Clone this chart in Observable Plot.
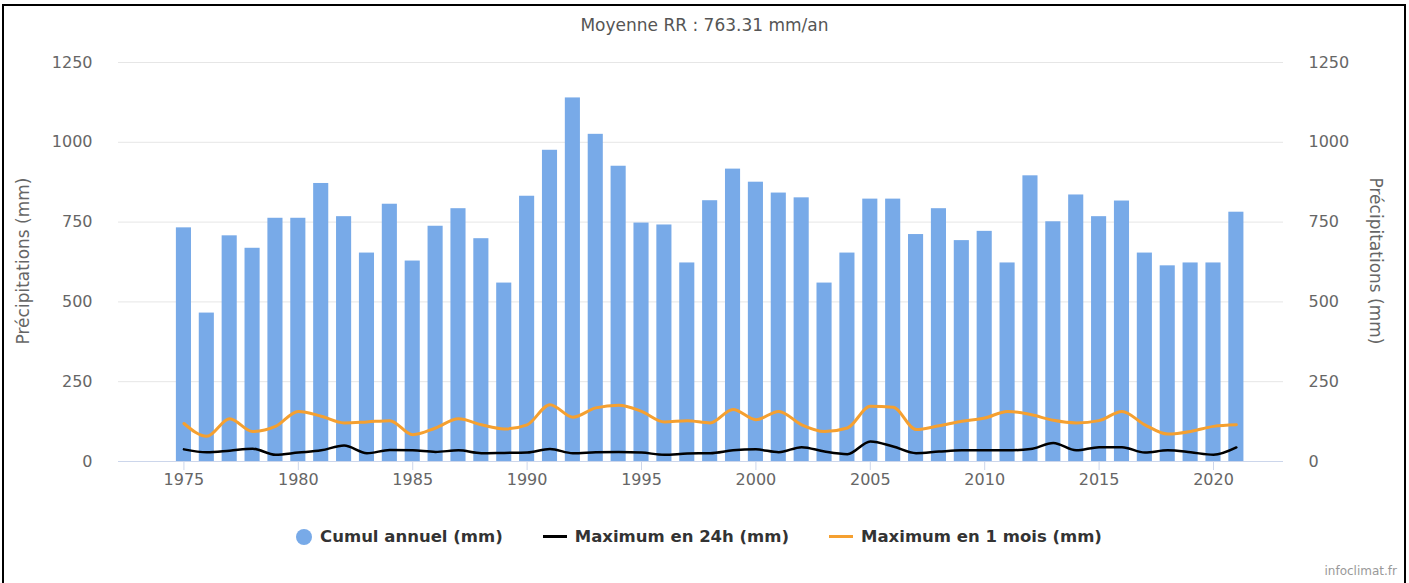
<!DOCTYPE html>
<html>
<head>
<meta charset="utf-8">
<script src="https://cdn.jsdelivr.net/npm/d3@7"></script>
<script src="https://cdn.jsdelivr.net/npm/@observablehq/plot@0.6"></script>
<style>
  html, body { margin: 0; padding: 0; background: #fff; }
  body { width: 1409px; height: 583px; position: relative; overflow: hidden; font-family: "DejaVu Sans", sans-serif; }
  #frame { position: absolute; left: 2px; top: 4px; width: 1404px; height: 640px; border: 2px solid #000; box-sizing: border-box; }
  #chart { position: absolute; left: 0; top: 0; }
  .title { position: absolute; top: 15px; left: 0; width: 1409px; text-align: center; font-size: 17px; color: #555; }
  .ytitle { position: absolute; font-size: 17px; color: #666; white-space: nowrap; }
  #legend { position: absolute; top: 527px; left: 0; width: 1398px; display: flex; justify-content: center; align-items: center; gap: 40px; font-size: 16.5px; font-weight: bold; color: #333; }
  .item { display: flex; align-items: center; gap: 8px; }
  .dot { width: 16px; height: 16px; border-radius: 50%; }
  .dash { width: 24px; height: 3px; }
  .credits { position: absolute; right: 12px; top: 564px; font-size: 12px; color: #999; }
</style>
</head>
<body>
<div id="frame"></div>
<div id="chart"></div>
<div class="title">Moyenne RR : 763.31 mm/an</div>
<div class="ytitle" id="ytl">Précipitations (mm)</div>
<div class="ytitle" id="ytr">Précipitations (mm)</div>
<div id="legend"></div>
<div class="credits">infoclimat.fr</div>
<script>
const years = [1975,1976,1977,1978,1979,1980,1981,1982,1983,1984,1985,1986,1987,1988,1989,
  1990,1991,1992,1993,1994,1995,1996,1997,1998,1999,2000,2001,2002,2003,2004,
  2005,2006,2007,2008,2009,2010,2011,2012,2013,2014,2015,2016,2017,2018,2019,2020,2021];
const cumulAnnuel = [732,465,707,668,762,762,871,767,653,806,628,737,792,698,559,
  831,975,1139,1025,925,747,741,622,817,916,875,841,826,559,653,
  822,822,711,792,692,721,622,895,751,835,767,816,653,613,622,622,781];
const max24h = [38,29,34,40,21,28,35,50,26,36,35,30,35,26,27,
  28,39,26,29,30,28,21,25,26,35,38,29,45,31,23,
  63,47,26,31,35,35,35,39,58,35,45,45,28,35,29,21,44];
const max1mois = [119,79,134,94,110,157,142,121,124,128,84,105,134,115,102,
  115,178,139,168,176,157,124,128,121,163,131,157,115,94,105,
  173,170,100,112,126,136,157,147,129,121,128,157,115,86,94,110,115];
const yTicks = [0,250,500,750,1000,1250];
const xTicks = [1975,1980,1985,1990,1995,2000,2005,2010,2015,2020];
const seriesNames = ["Cumul annuel (mm)", "Maximum en 24h (mm)", "Maximum en 1 mois (mm)"];
const seriesColors = ["#78aae8", "#000000", "#f5a030"];

const data = years.map((y, i) => ({year: y, cumul: cumulAnnuel[i], m24: max24h[i], m1: max1mois[i]}));
const half = 0.33;

const chart = Plot.plot({
  width: 1409,
  height: 500,
  marginTop: 62,
  marginBottom: 39,
  marginLeft: 118,
  marginRight: 126,
  style: {fontFamily: "DejaVu Sans, sans-serif", fontSize: "16px", color: "#666", background: "transparent"},
  x: {type: "linear", domain: [1972.14, 2023.06]},
  y: {domain: [0, 1250]},
  marks: [
    Plot.gridY(yTicks, {stroke: "#e6e6e6", strokeOpacity: 1}),
    Plot.rectY(data, {x1: d => d.year - half, x2: d => d.year + half, y: "cumul", fill: seriesColors[0]}),
    Plot.ruleY([0], {stroke: "#ccd6eb"}),
    Plot.line(data, {x: "year", y: "m1", stroke: seriesColors[2], strokeWidth: 3, curve: "monotone-x"}),
    Plot.line(data, {x: "year", y: "m24", stroke: seriesColors[1], strokeWidth: 2.5, curve: "monotone-x"}),
    Plot.axisY(yTicks, {anchor: "left", tickSize: 0, tickPadding: 26, label: null, fill: "#666", tickFormat: d => String(d)}),
    Plot.axisY(yTicks, {anchor: "right", tickSize: 0, tickPadding: 25, label: null, fill: "#666", tickFormat: d => String(d)}),
    Plot.axisX(xTicks, {anchor: "bottom", tickSize: 9, tickPadding: 3, stroke: "#ccd6eb", fill: "#666", tickFormat: d => String(d), label: null})
  ]
});
document.getElementById("chart").appendChild(chart);

// axis titles
const ytl = document.getElementById("ytl");
const ytr = document.getElementById("ytr");
function placeRot(el, cx, cy, deg) {
  const w = el.offsetWidth, h = el.offsetHeight;
  el.style.left = (cx - w / 2) + "px";
  el.style.top = (cy - h / 2) + "px";
  el.style.transform = `rotate(${deg}deg)`;
}
placeRot(ytl, 23, 261, -90);
placeRot(ytr, 1376, 261, 90);

// legend
const legend = document.getElementById("legend");
seriesNames.forEach((name, i) => {
  const item = document.createElement("div");
  item.className = "item";
  const sym = document.createElement("div");
  sym.className = i === 0 ? "dot" : "dash";
  sym.style.background = seriesColors[i];
  const txt = document.createElement("span");
  txt.textContent = name;
  item.appendChild(sym);
  item.appendChild(txt);
  legend.appendChild(item);
});
</script>
</body>
</html>
